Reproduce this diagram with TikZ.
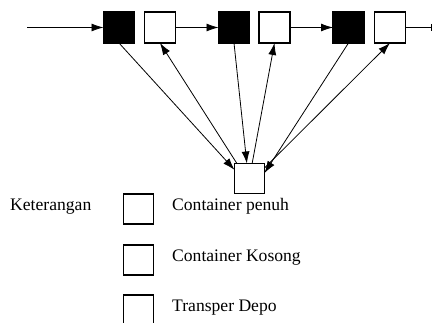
\documentclass[tikz,border=0pt]{standalone}
\usepackage{fontspec}
\setmainfont{Liberation Serif}
\usetikzlibrary{arrows.meta}
\begin{document}
\begin{tikzpicture}[x=1pt,y=-1pt,
  box/.style={draw,line width=1.4pt,minimum size=31pt,inner sep=0pt,outer sep=0pt},
  full/.style={box,fill=black},
  empty/.style={box,fill=white},
  flow/.style={line width=0.8pt,-{Latex[length=12pt,width=8pt]}},
  label/.style={font=\fontsize{17.6}{20}\selectfont,inner sep=0pt,anchor=base west}]
\useasboundingbox (0,0) rectangle (437,323);
% container chain
\node[full]  (f1) at (119,27.5) {};
\node[empty] (e1) at (160,27.5) {};
\node[full]  (f2) at (234,27.5) {};
\node[empty] (e2) at (274.5,27.5) {};
\node[full]  (f3) at (348.5,27.5) {};
\node[empty] (e3) at (390,27.5) {};
\coordinate (in) at (27,27.5);
\coordinate (out) at (432,27.5);
\draw[flow] (in) -- (f1.west);
\draw[flow] (e1.east) -- (f2.west);
\draw[flow] (e2.east) -- (f3.west);
\draw[line width=0.8pt,-{Bar[width=7pt]}] (e3.east) -- (out);
% depot
\node[box,minimum size=30pt] (depot) at (249.5,178.5) {};
\draw[flow] (f1.south) -- (depot.150);
\draw[flow] (depot.130) -- (e1.south);
\draw[flow] (f2.south) -- (depot.100);
\draw[flow] (depot.80) -- (e2.south);
\draw[flow] (f3.south) -- (depot.20);
\draw[flow] (depot.35) -- (e3.south);
% legend
\node[label] (ket) at (10,211) {Keterangan};
\node[box,minimum size=30pt] (l1) at (138.5,209) {};
\node[box,minimum size=30pt] (l2) at (138.5,260) {};
\node[minimum width=30pt,minimum height=28pt,inner sep=0pt,outer sep=0pt] (l3) at (138.5,309) {};
\draw[line width=1.4pt] (l3.south west) -- (l3.north west) -- (l3.north east) -- (l3.south east);
\node[label] (t1) at (172,211) {Container penuh};
\node[label] (t2) at (172,262) {Container Kosong};
\node[label] (t3) at (172,312) {Transper Depo};
\end{tikzpicture}
\end{document}
